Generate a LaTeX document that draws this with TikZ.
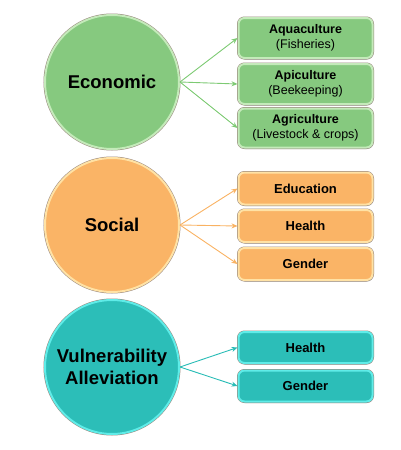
\documentclass[tikz,border=0pt]{standalone}
\usepackage{fontspec}
\setmainfont{Liberation Sans}
\usetikzlibrary{arrows.meta,shadows}
\definecolor{rimgray}{RGB}{150,132,122}
\definecolor{econfill}{RGB}{134,201,127}
\definecolor{econlight}{RGB}{196,234,186}
\definecolor{econline}{RGB}{125,202,115}
\definecolor{socfill}{RGB}{250,180,102}
\definecolor{soclight}{RGB}{255,226,165}
\definecolor{socline}{RGB}{249,178,98}
\definecolor{vulfill}{RGB}{44,190,184}
\definecolor{vullight}{RGB}{95,236,232}
\definecolor{vulline}{RGB}{40,188,182}
\begin{document}
\begin{tikzpicture}[x=1pt,y=-1pt,
    hub/.style={circle,minimum size=134pt,inner sep=0pt,align=center,
        fill=#1fill,draw=#1light,line width=2pt,
        preaction={draw=rimgray,line width=3pt},
        font=\bfseries\fontsize{18.5}{22}\selectfont},
    leaf/.style={rectangle,rounded corners=6pt,minimum width=134pt,inner sep=0pt,align=center,
        fill=#1fill,draw=#1light,line width=2pt,
        preaction={draw=rimgray,line width=3pt},
        drop shadow={shadow xshift=0.8pt,shadow yshift=-1.5pt,opacity=0.35},
        font=\fontsize{12.5}{15}\selectfont},
    link/.style={draw=#1line,line width=0.9pt,-{Stealth[length=6pt,width=5pt]}}]
    \useasboundingbox (0,0) rectangle (400,450);
    % circles
    \node[hub=econ] (econ) at (112,82) {Economic};
    \node[hub=soc] (soc) at (112,225) {Social};
    \node[hub=vul] (vul) at (112,367) {Vulnerability\\Alleviation};
    % economic
    \node[leaf=econ,minimum height=40pt] (aqua) at (305.5,38) {\textbf{Aquaculture}\\(Fisheries)};
    \node[leaf=econ,minimum height=40pt] (apic) at (305.5,84) {\textbf{Apiculture}\\(Beekeeping)};
    \node[leaf=econ,minimum height=39pt] (agri) at (305.5,128) {\textbf{Agriculture}\\(Livestock \& crops)};
    % social
    \node[leaf=soc,minimum height=32pt,font=\bfseries\fontsize{13}{15}\selectfont] (edu) at (305.5,188.5) {Education};
    \node[leaf=soc,minimum height=32pt,font=\bfseries\fontsize{13}{15}\selectfont] (shealth) at (305.5,226) {Health};
    \node[leaf=soc,minimum height=32pt,font=\bfseries\fontsize{13}{15}\selectfont] (sgender) at (305.5,264) {Gender};
    % vulnerability
    \node[leaf=vul,minimum height=31pt,font=\bfseries\fontsize{13}{15}\selectfont] (vhealth) at (305.5,347.5) {Health};
    \node[leaf=vul,minimum height=31pt,font=\bfseries\fontsize{13}{15}\selectfont] (vgender) at (305.5,386) {Gender};
    % arrows
    \foreach \t in {aqua,apic,agri}
    {
        \draw[link=econ] (econ.east) -- (\t.west);
    }
    \foreach \t in {edu,shealth,sgender}
    {
        \draw[link=soc] (soc.east) -- (\t.west);
    }
    \foreach \t in {vhealth,vgender}
    {
        \draw[link=vul] (vul.east) -- (\t.west);
    }
\end{tikzpicture}
\end{document}
